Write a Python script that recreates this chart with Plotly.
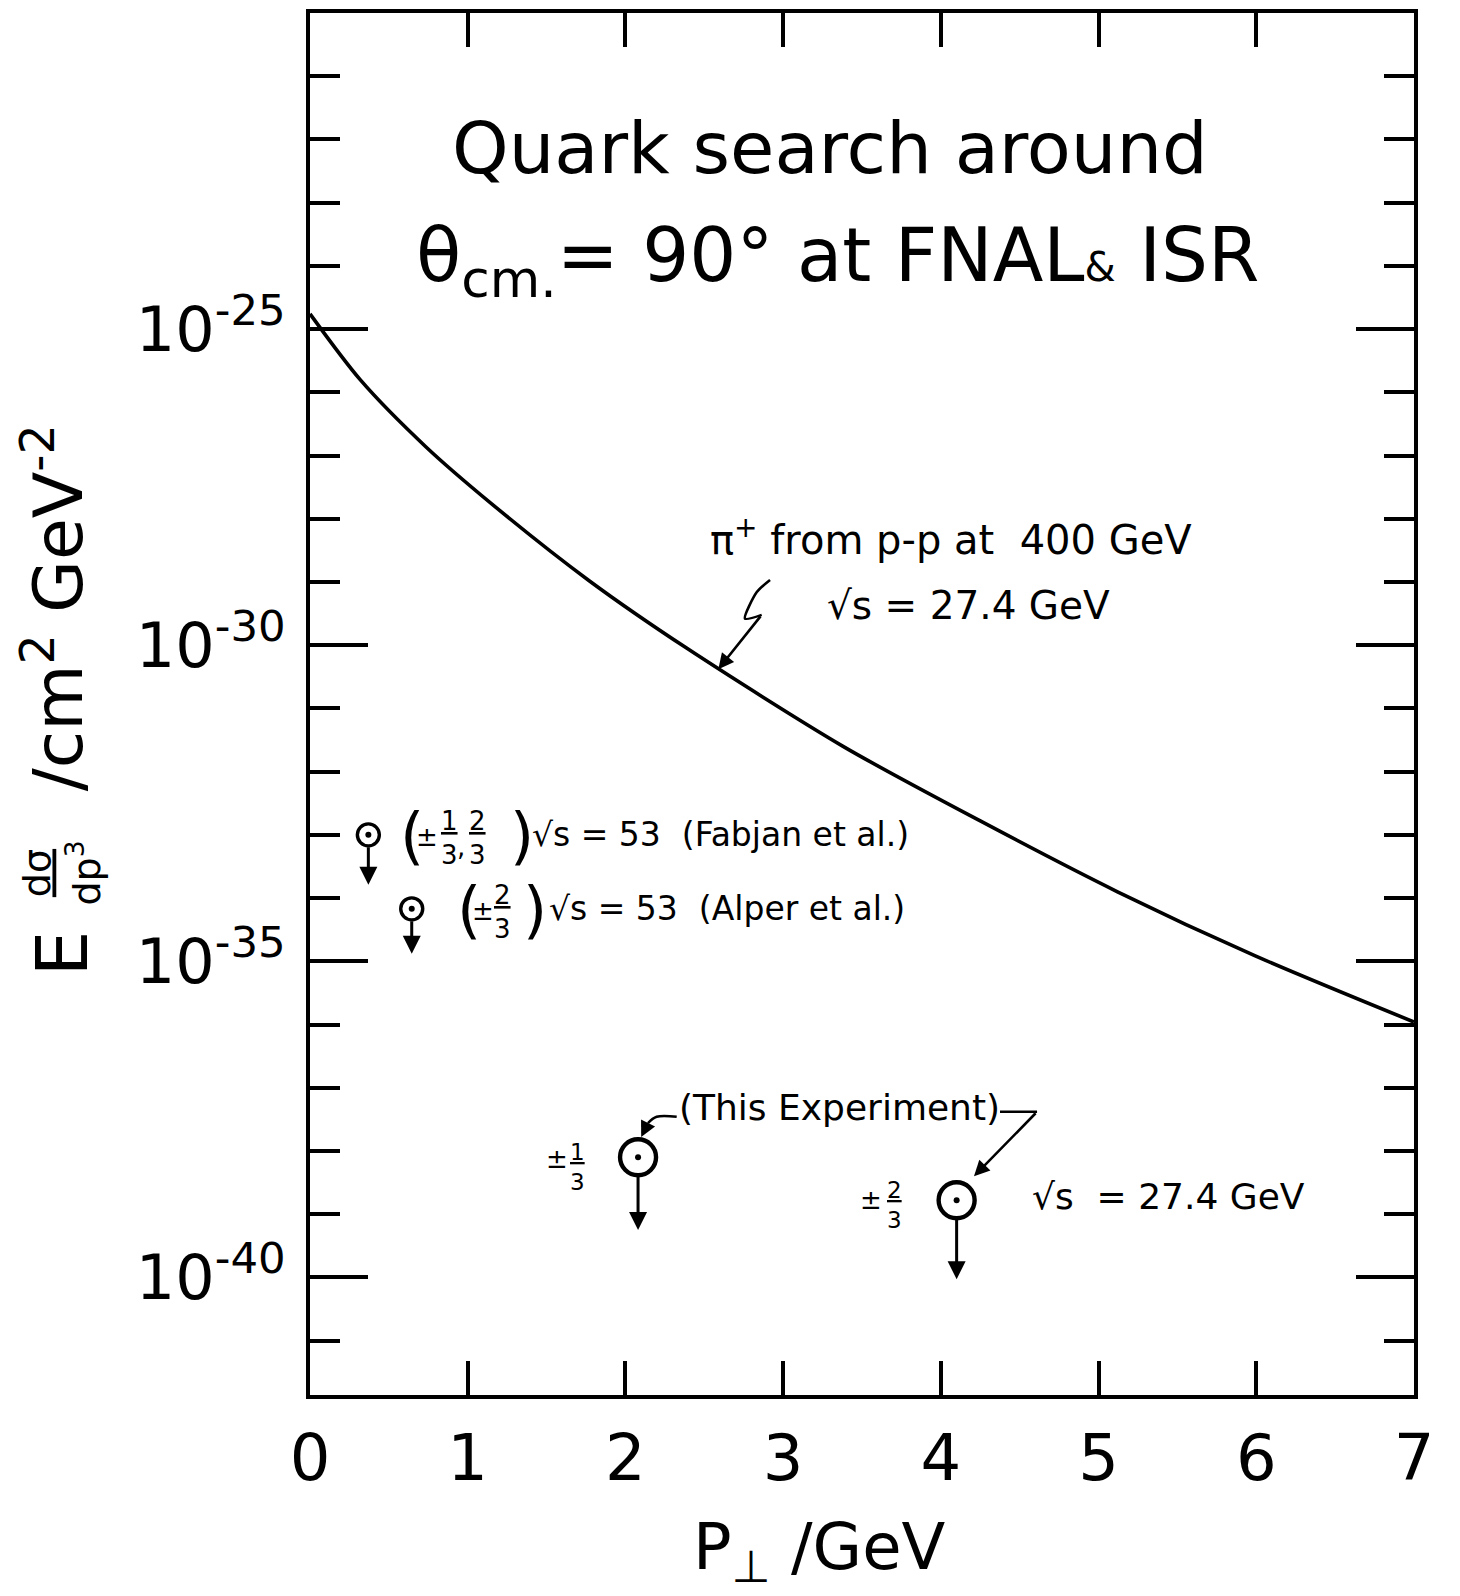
import plotly.graph_objects as go

# ---------------- data ----------------
# pi+ invariant cross section curve (x = P_perp in GeV, value = log10 of E d3sigma/dp3)
curve_pt = [0.0, 0.318, 0.734, 1.15, 1.77, 2.39, 3.38, 4.25, 5.12, 5.99, 7.0]
curve_log = [-24.76, -25.80, -26.86, -27.76, -28.98, -30.05, -31.60, -32.78, -33.90, -34.91, -35.96]

# upper limits (quark searches)
limit_names = ["Fabjan et al.", "Alper et al.", "This Experiment (±1/3)", "This Experiment (±2/3)"]
limit_pt = [0.37, 0.645, 2.08, 4.10]
limit_log = [-33.0, -34.17, -38.10, -38.78]

x_ticks = [0, 1, 2, 3, 4, 5, 6, 7]
y_major_exp = [-25, -30, -35, -40]
y_minor_exp = list(range(-20, -42, -1))

FONT = "DejaVu Sans"
BLACK = "black"

fig = go.Figure()

# main curve
fig.add_trace(go.Scatter(
    x=curve_pt, y=[10 ** v for v in curve_log], mode="lines",
    line=dict(color=BLACK, width=3.6, shape="spline", smoothing=0.8),
    hoverinfo="skip"))

# limit markers (ring + centre dot)
fig.add_trace(go.Scatter(
    x=limit_pt[:2], y=[10 ** v for v in limit_log[:2]], mode="markers",
    marker=dict(symbol="circle-open", size=22, color=BLACK, line=dict(width=3.4)),
    hoverinfo="skip"))
fig.add_trace(go.Scatter(
    x=limit_pt[2:], y=[10 ** v for v in limit_log[2:]], mode="markers",
    marker=dict(symbol="circle-open", size=36, color=BLACK, line=dict(width=4.4)),
    hoverinfo="skip"))
fig.add_trace(go.Scatter(
    x=limit_pt, y=[10 ** v for v in limit_log], mode="markers",
    marker=dict(symbol="circle", size=6, color=BLACK),
    hoverinfo="skip"))

annotations = []

# downward arrows (upper limits)
drops = [0.79, 0.71, 1.15, 1.25]
radii = [11, 11, 18, 18]
for px, lv, d, r in zip(limit_pt, limit_log, drops, radii):
    annotations.append(dict(
        x=px, y=lv - d, ax=px, ay=lv, xref="x", yref="y", axref="x", ayref="y",
        text="", showarrow=True, arrowhead=2, arrowsize=1.2, arrowwidth=3,
        arrowcolor=BLACK, startstandoff=r, standoff=0))

# lightning-shaped pointer to the curve
zig_x = [2.917, 2.833, 2.758, 2.864]
zig_log = [-28.97, -29.16, -29.58, -29.52]
fig.add_trace(go.Scatter(
    x=zig_x, y=[10 ** v for v in zig_log], mode="lines",
    line=dict(color=BLACK, width=2.6, shape="spline", smoothing=0.7), hoverinfo="skip"))
annotations.append(dict(
    x=2.589, y=-30.38, ax=zig_x[-1], ay=zig_log[-1], xref="x", yref="y", axref="x", ayref="y",
    text="", showarrow=True, arrowhead=2, arrowsize=1.2, arrowwidth=2.6, arrowcolor=BLACK))

# "This Experiment" connectors
lc_x = [2.325, 2.198, 2.143]
lc_log = [-37.46, -37.46, -37.56]
fig.add_trace(go.Scatter(
    x=lc_x, y=[10 ** v for v in lc_log], mode="lines",
    line=dict(color=BLACK, width=2.6, shape="spline"), hoverinfo="skip"))
annotations.append(dict(
    x=2.10, y=-37.78, ax=lc_x[-1], ay=lc_log[-1], xref="x", yref="y", axref="x", ayref="y",
    text="", showarrow=True, arrowhead=2, arrowsize=1.2, arrowwidth=2.6, arrowcolor=BLACK))
rc_x = [4.375, 4.61]
rc_log = [-37.38, -37.38]
fig.add_trace(go.Scatter(
    x=rc_x, y=[10 ** v for v in rc_log], mode="lines",
    line=dict(color=BLACK, width=2.6), hoverinfo="skip"))
annotations.append(dict(
    x=4.21, y=-38.40, ax=rc_x[-1], ay=rc_log[-1], xref="x", yref="y", axref="x", ayref="y",
    text="", showarrow=True, arrowhead=2, arrowsize=1.2, arrowwidth=2.6, arrowcolor=BLACK))


def txt(text, x, y, size, xanchor="left", yanchor="middle", xshift=0, yshift=0,
        xref="x", yref="y", angle=0):
    annotations.append(dict(
        text=text, x=x, y=y, xref=xref, yref=yref, showarrow=False,
        xanchor=xanchor, yanchor=yanchor, xshift=xshift, yshift=yshift,
        textangle=angle, font=dict(family=FONT, size=size, color=BLACK)))


# title
txt("Quark search around", 3.30, -22.14, 72, xanchor="center")
txt("θ<sub>cm.</sub>= 90° at FNAL<span style='font-size:40px'>&amp;</span> ISR",
    3.35, -23.92, 74, xanchor="center")

# curve label
txt("π<sup>+</sup> from p-p at  400 GeV", 2.524, -28.29, 40)
txt("√s = 27.4 GeV", 3.266, -29.37, 39)

# Fabjan label pieces (relative to marker)
fx, fy = limit_pt[0], limit_log[0]
txt("(", fx, fy, 62, xshift=30, yshift=-1)
txt("±", fx, fy, 26, xshift=46, yshift=-2)
txt("<u>1</u><br>3", fx, fy, 26, xshift=71, yshift=-3)
txt(",", fx, fy, 26, xshift=87, yshift=-12)
txt("<u>2</u><br>3", fx, fy, 26, xshift=99, yshift=-3)
txt(")", fx, fy, 62, xshift=140, yshift=-1)
txt("√s = 53  (Fabjan et al.)", fx, fy, 33, xshift=162)

# Alper label pieces
ax_, ay_ = limit_pt[1], limit_log[1]
txt("(", ax_, ay_, 62, xshift=43, yshift=-1)
txt("±", ax_, ay_, 26, xshift=58, yshift=-2)
txt("<u>2</u><br>3", ax_, ay_, 26, xshift=80, yshift=-3)
txt(")", ax_, ay_, 62, xshift=109, yshift=-1)
txt("√s = 53  (Alper et al.)", ax_, ay_, 33, xshift=135)

# This experiment labels
txt("(This Experiment)", 2.33, -37.31, 36)
t1x, t1y = limit_pt[2], limit_log[2]
txt("±", t1x, t1y, 26, xshift=-94, yshift=-2)
txt("<u>1</u><br>3", t1x, t1y, 23, xshift=-70, yshift=-10)
t2x, t2y = limit_pt[3], limit_log[3]
txt("±", t2x, t2y, 26, xshift=-99, yshift=0)
txt("<u>2</u><br>3", t2x, t2y, 23, xshift=-72, yshift=-5)
txt("√s  = 27.4 GeV", 4.566, -38.72, 36)

# axis titles
txt("P<sub>⊥</sub> /GeV", 3.23, -0.113, 64, xanchor="center", yref="paper")
txt("E", -0.2246, 0.3196, 72, xanchor="center", xref="paper", yref="paper", angle=-90)
txt("<u>dσ</u><br>dp<sup>3</sup>", -0.2246, 0.3773, 38, xanchor="center", xref="paper",
    yref="paper", angle=-90)
txt("/cm<sup>2</sup> GeV<sup>-2</sup>", -0.232, 0.570, 68, xanchor="center",
    xref="paper", yref="paper", angle=-90)

fig.update_layout(
    width=1460, height=1596,
    margin=dict(l=302, r=54, t=1, b=209),
    paper_bgcolor="white", plot_bgcolor="white",
    showlegend=False,
    annotations=annotations,
    font=dict(family=FONT, color=BLACK),
    xaxis=dict(
        range=[0, 7], tickmode="array", tickvals=x_ticks,
        ticktext=[str(v) for v in x_ticks],
        ticks="inside", ticklen=34, tickwidth=3.5, tickcolor=BLACK,
        showline=True, linewidth=4, linecolor=BLACK, mirror="allticks",
        showgrid=False, zeroline=False,
        tickfont=dict(family=FONT, size=64, color=BLACK), ticklabelstandoff=4),
    yaxis=dict(
        type="log", range=[-41.86, -20], tickmode="array",
        tickvals=[10 ** e for e in y_major_exp],
        ticktext=["10<sup>%d</sup>" % e for e in y_major_exp],
        ticks="inside", ticklen=58, tickwidth=3.5, tickcolor=BLACK,
        minor=dict(tickmode="array", tickvals=[10 ** e for e in y_minor_exp],
                   ticks="inside", ticklen=30, tickwidth=3.5, tickcolor=BLACK),
        showline=True, linewidth=4, linecolor=BLACK, mirror="allticks",
        showgrid=False, zeroline=False,
        tickfont=dict(family=FONT, size=62, color=BLACK), ticklabelstandoff=8),
)

fig.write_html("out.html")
